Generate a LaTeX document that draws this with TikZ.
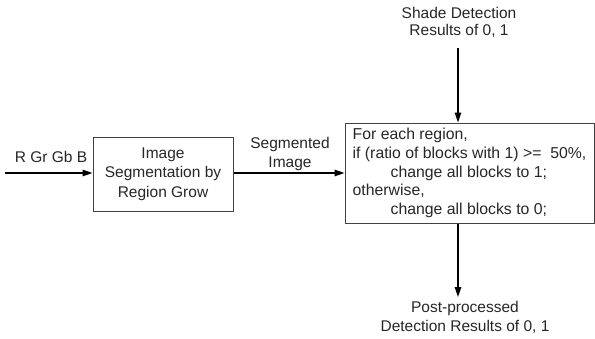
\documentclass[tikz,border=0pt]{standalone}
\usepackage{fontspec}
\setmainfont{Liberation Sans}
\usetikzlibrary{arrows.meta}
\begin{document}
\begin{tikzpicture}[x=1pt,y=-1pt,
  every node/.style={font=\fontsize{15.5pt}{19.5pt}\selectfont, text=black!85},
  procbox/.style={draw=black!75, line width=1pt, rectangle, inner sep=0pt},
  lbl/.style={align=center, inner sep=0pt},
  flow/.style={line width=1.3pt, -{Triangle[length=10pt,width=6.5pt]}}]
\useasboundingbox (0,0) rectangle (595,338);
% input coordinate
\coordinate (in) at (5,173);
% left box
\node[procbox, minimum width=140pt, minimum height=74pt, align=center] (seg) at (163,174)
  {Image\\Segmentation by\\Region Grow};
% right box
\node[procbox, minimum width=249pt, minimum height=100pt, align=left,
      font=\fontsize{15.8pt}{18.75pt}\selectfont] (post) at (469.5,173)
  {For each region,\\
   if (ratio of blocks with 1) >=\ \ 50\%,\\
   \hspace*{38pt}change all blocks to 1;\\
   otherwise,\\
   \hspace*{38pt}change all blocks to 0;};
% labels
\node[lbl] (rgb) at (51,157) {R Gr Gb B};
\node[lbl, font=\fontsize{15.5pt}{19pt}\selectfont] (segimg) at (290,154) {Segmented\\Image};
\node[lbl, font=\fontsize{15.5pt}{17pt}\selectfont] (shade) at (459,22) {Shade Detection\\Results of 0, 1};
\node[lbl, font=\fontsize{15.5pt}{19pt}\selectfont] (out) at (465,317.5) {Post-processed\\Detection Results of 0, 1};
\coordinate (shadeEnd) at (458,48);
\coordinate (outEnd) at (458,297);
% connectors
\draw[flow] (in) -- (seg.west |- in);
\draw[flow] (seg.east |- in) -- (post.west |- in);
\draw[flow] (shadeEnd) -- (shadeEnd |- post.north);
\draw[flow] (outEnd |- post.south) -- (outEnd);
\end{tikzpicture}
\end{document}
